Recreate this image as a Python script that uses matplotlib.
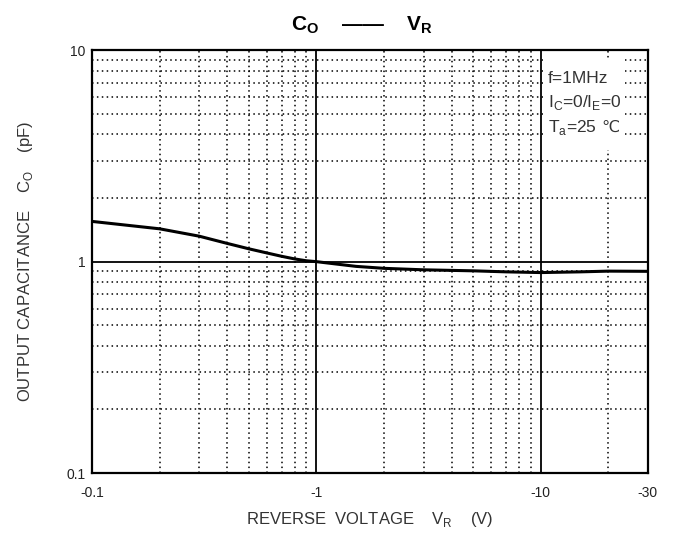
import numpy as np
import matplotlib
matplotlib.use("Agg")
import matplotlib.pyplot as plt
from matplotlib.patches import Rectangle
from matplotlib.ticker import FixedLocator, NullFormatter

plt.rcParams['font.family'] = ['Liberation Sans', 'DejaVu Sans']
plt.rcParams['mathtext.fontset'] = 'custom'
plt.rcParams['mathtext.rm'] = 'Liberation Sans'
plt.rcParams['mathtext.bf'] = 'Liberation Sans:bold'

# data (V_R magnitude in V, C_O in pF)
vr = [0.1, 0.2, 0.3, 0.4, 0.5, 0.6, 0.7, 0.8, 0.9, 1.0, 1.5, 2, 3, 5, 7, 10, 15, 20, 30]
co = [1.55, 1.43, 1.32, 1.22, 1.15, 1.10, 1.06, 1.03, 1.01, 1.0, 0.95, 0.93, 0.915,
      0.905, 0.895, 0.888, 0.895, 0.902, 0.90]

x_major = [0.1, 1, 10, 30]
x_major_labels = ['-0.1', '-1', '-10', '-30']
x_minor = [0.2, 0.3, 0.4, 0.5, 0.6, 0.7, 0.8, 0.9, 2, 3, 4, 5, 6, 7, 8, 9, 20]
y_major = [0.1, 1, 10]
y_major_labels = ['0.1', '1', '10']
y_minor = [0.2, 0.3, 0.4, 0.5, 0.6, 0.7, 0.8, 0.9, 2, 3, 4, 5, 6, 7, 8, 9]

cond_lines = ['f=1MHz', 'I$_\\mathregular{C}$=0/I$_\\mathregular{E}$=0', 'T$_\\mathregular{a}$=25']
temp_unit = '\u2103'

fig = plt.figure(figsize=(6.77, 5.34), dpi=100)
ax = fig.add_axes([0.136, 0.114, 0.821, 0.792])
ax.set_xscale('log')
ax.set_yscale('log')
ax.set_xlim(0.1, 30)
ax.set_ylim(0.1, 10)

ax.xaxis.set_major_locator(FixedLocator(x_major))
ax.xaxis.set_minor_locator(FixedLocator(x_minor))
ax.yaxis.set_major_locator(FixedLocator(y_major))
ax.yaxis.set_minor_locator(FixedLocator(y_minor))
ax.set_xticklabels(x_major_labels)
ax.set_yticklabels(y_major_labels)
ax.xaxis.set_minor_formatter(NullFormatter())
ax.yaxis.set_minor_formatter(NullFormatter())
ax.tick_params(which='both', length=0, labelsize=10, colors='#222222')
ax.tick_params(axis='x', pad=9)
ax.tick_params(axis='y', pad=5)

ax.grid(which='major', color='black', linewidth=1.3, linestyle='-')
ax.grid(which='minor', color='black', linewidth=1.1, linestyle=(0, (1, 2.2)))
ax.set_axisbelow(True)
for s in ax.spines.values():
    s.set_linewidth(1.6)

ax.plot(vr, co, color='black', linewidth=2.2, zorder=3)

# white patch behind the test conditions
ax.add_patch(Rectangle((0.812, 0.764), 0.147, 0.217, transform=ax.transAxes,
                       facecolor='white', edgecolor='none', zorder=2))
ys = [0.934, 0.877, 0.818]
for txt, yy in zip(cond_lines, ys):
    t = ax.text(0.820, yy, txt, transform=ax.transAxes, fontsize=12.5, color='#333333',
                va='center', ha='left', zorder=4)
ax.annotate(' ' + temp_unit, xy=(1, 0.5), xycoords=t, va='center', ha='left',
            fontsize=11.5, color='#333333', family='DejaVu Sans', zorder=4)

ax.set_xlabel('REVERSE  VOLTAGE    V$_\\mathregular{R}$    (V)', fontsize=12, color='#333333')
ax.xaxis.set_label_coords(0.5, -0.087)
ax.set_ylabel('OUTPUT CAPACITANCE    C$_\\mathregular{O}$    (pF)', fontsize=12, color='#333333')
ax.yaxis.set_label_coords(-0.103, 0.5)
fig.text(0.535, 0.952, '$\\mathbf{C}_\\mathbf{O}$    \u2014\u2014    $\\mathbf{V}_\\mathbf{R}$',
         fontsize=15, fontweight='bold', ha='center', va='center')

fig.savefig('out.png', dpi=100)
